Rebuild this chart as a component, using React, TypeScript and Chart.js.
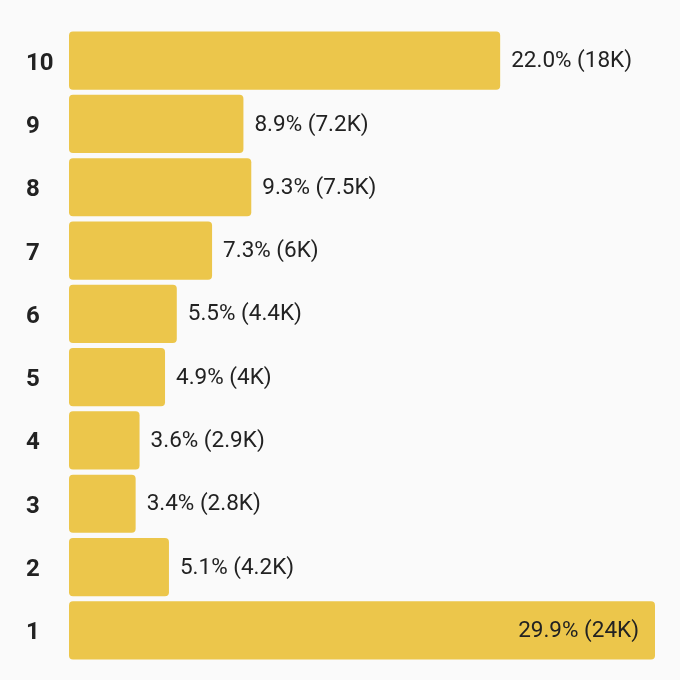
import { useEffect, useRef } from 'react';
import { Chart, registerables } from 'chart.js';

Chart.register(...registerables);

const categories = ['10', '9', '8', '7', '6', '5', '4', '3', '2', '1'];
const shares = [22.0, 8.9, 9.3, 7.3, 5.5, 4.9, 3.6, 3.4, 5.1, 29.9];
const counts = ['18K', '7.2K', '7.5K', '6K', '4.4K', '4K', '2.9K', '2.8K', '4.2K', '24K'];

const valueLabels = {
  id: 'valueLabels',
  afterDatasetsDraw(chart: Chart) {
    const { ctx, chartArea } = chart;
    const meta = chart.getDatasetMeta(0);
    ctx.save();
    ctx.font = '22.5px Roboto';
    ctx.fillStyle = '#222222';
    ctx.textBaseline = 'middle';
    meta.data.forEach((bar: any, i) => {
      const text = `${shares[i].toFixed(1)}% (${counts[i]})`;
      const w = ctx.measureText(text).width;
      if (bar.x + 11 + w > chartArea.right) {
        ctx.textAlign = 'right';
        ctx.fillText(text, bar.x - 16, bar.y + 1);
      } else {
        ctx.textAlign = 'left';
        ctx.fillText(text, bar.x + 11, bar.y + 1);
      }
    });
    ctx.restore();
  },
};

export default function App() {
  const canvasRef = useRef<HTMLCanvasElement>(null);
  const chartRef = useRef<Chart | null>(null);

  useEffect(() => {
    document.body.style.margin = '0';
    document.body.style.background = '#fafafa';
    if (!canvasRef.current) return;
    chartRef.current?.destroy();

    chartRef.current = new Chart(canvasRef.current, {
      type: 'bar',
      data: {
        labels: categories,
        datasets: [
          {
            data: shares,
            backgroundColor: '#ecc64b',
            borderRadius: 4,
            borderSkipped: false,
            barPercentage: 0.92,
            categoryPercentage: 1,
          },
        ],
      },
      options: {
        indexAxis: 'y',
        responsive: true,
        maintainAspectRatio: false,
        animation: false,
        layout: { padding: { top: 29, bottom: 18, left: 26, right: 25 } },
        plugins: {
          legend: { display: false },
          tooltip: { enabled: false },
        },
        scales: {
          x: {
            display: false,
            min: 0,
            max: 29.9,
          },
          y: {
            grid: { display: false, drawTicks: false },
            border: { display: false },
            afterFit: (scale: any) => {
              scale.width = 43;
            },
            ticks: {
              color: '#222222',
              crossAlign: 'far',
              labelOffset: 3,
              font: { family: 'Roboto', size: 24, weight: 'bold' },
            },
          },
        },
      },
      plugins: [valueLabels],
    });

    return () => {
      chartRef.current?.destroy();
      chartRef.current = null;
    };
  }, []);

  return (
    <div style={{ width: 680, height: 680, background: '#fafafa' }}>
      <canvas ref={canvasRef} />
    </div>
  );
}
